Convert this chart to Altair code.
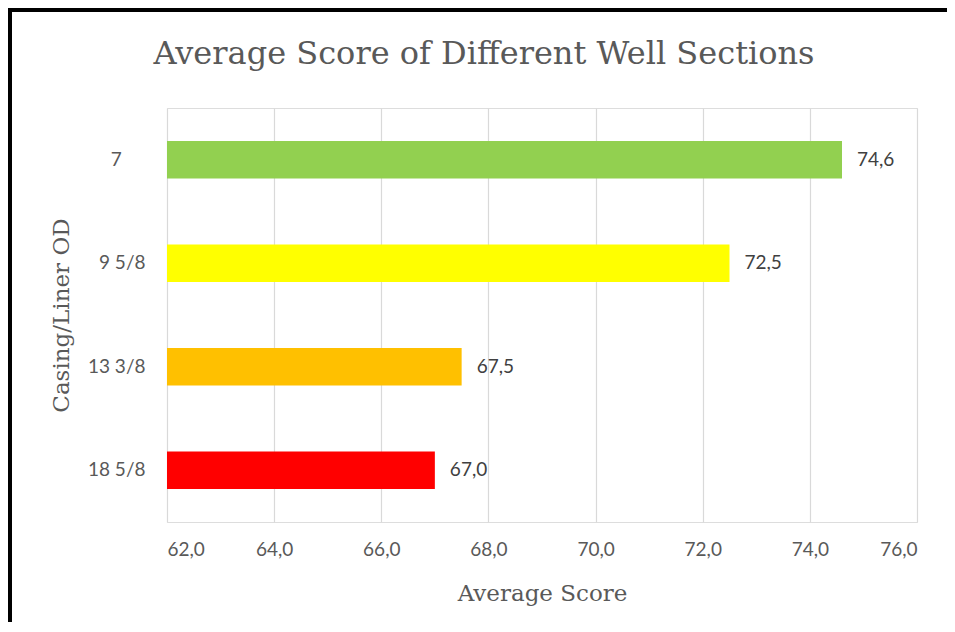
import altair as alt
import pandas as pd

categories = ["7\u00a0\u00a0\u2800", "9 5/8", "13 3/8", "18 5/8"]
values = [74.6, 72.5, 67.5, 67.0]
colors = ["#92D050", "#FFFF00", "#FFC000", "#FF0000"]
x_ticks = [62, 64, 66, 68, 70, 72, 74, 76]
title_text = "Average Score of Different Well Sections"

df = pd.DataFrame({"cat": categories, "val": values, "col": colors})

W, H = 750, 414
serif = "DejaVu Serif"
sans = "Lato"
gray = "#595959"

base = alt.Chart(df)

y_enc = alt.Y("cat:N", sort=categories,
              scale=alt.Scale(paddingInner=0.64, paddingOuter=0.32),
              axis=alt.Axis(title="Casing/Liner OD", titleFont=serif, titleFontSize=23,
                            titleFontWeight="normal", titleColor=gray,
                            titleX=-106, titleY=H / 2, titleBaseline="middle", titleAlign="center",
                            labelFont=sans, labelFontSize=19, labelColor=gray,
                            labelPadding=22, ticks=False, domain=False, grid=False))

bars = base.mark_bar().encode(
    x=alt.X("val:Q", scale=alt.Scale(domain=[62, 76], zero=False, nice=False),
            axis=alt.Axis(title="Average Score", values=x_ticks,
                          labelExpr="replace(format(datum.value, '.1f'), '.', ',')",
                          titleFont=serif, titleFontSize=23, titleFontWeight="normal",
                          titleColor=gray, titleY=71, titleBaseline="middle",
                          labelFont=sans, labelFontSize=19, labelColor=gray,
                          labelPadding=18, ticks=False, domain=False,
                          grid=True, gridColor="#D9D9D9", gridWidth=1.2)),
    x2=alt.datum(62),
    y=y_enc,
    color=alt.Color("col:N", scale=None),
)

labels = base.transform_calculate(
    lbl="replace(format(datum.val, '.1f'), '.', ',')"
).mark_text(align="left", baseline="middle", dx=15, font=sans, fontSize=19,
            color="#404040").encode(
    x=alt.X("val:Q"),
    y=alt.Y("cat:N", sort=categories),
    text="lbl:N",
)

title = alt.Chart(pd.DataFrame({"t": [title_text]})).mark_text(
    font=serif, fontSize=32, color=gray, align="center", baseline="middle"
).encode(x=alt.value(317), y=alt.value(-54), text="t:N")

border_top = base.mark_rule(color="black", strokeWidth=4).encode(
    x=alt.value(-159), x2=alt.value(790), y=alt.value(-98))
border_left = base.mark_rule(color="black", strokeWidth=4).encode(
    x=alt.value(-157), y=alt.value(-100), y2=alt.value(520))

chart = alt.layer(bars, labels, title, border_top, border_left).properties(
    width=W, height=H,
    autosize=alt.AutoSizeParams(type="none"),
    padding={"left": 159, "top": 100, "right": 30, "bottom": 100},
).configure_view(stroke=None).configure(background="white")

chart.save("out.html", embed_options={"renderer": "svg", "actions": False})
